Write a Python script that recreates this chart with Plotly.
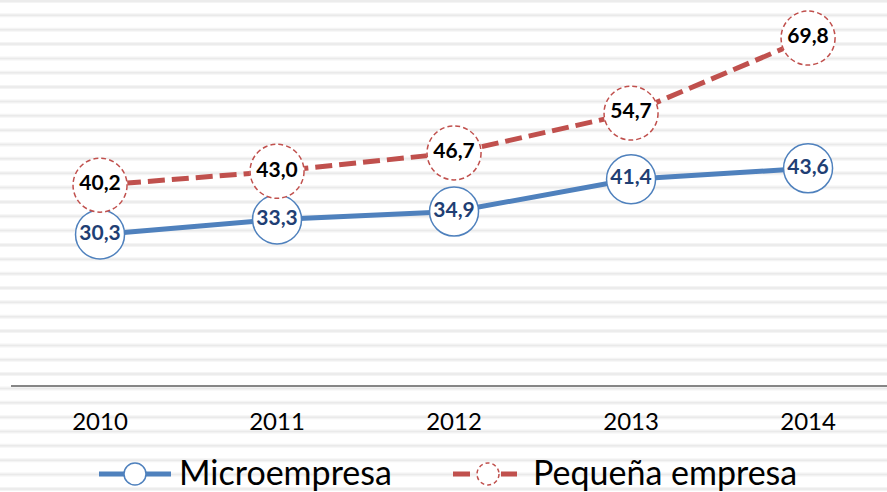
import plotly.graph_objects as go

# ---- data ----
years = [2010, 2011, 2012, 2013, 2014]
tick_labels = ["2010", "2011", "2012", "2013", "2014"]
micro = [30.3, 33.3, 34.9, 41.4, 43.6]
pequena = [40.2, 43.0, 46.7, 54.7, 69.8]
micro_labels = ["30,3", "33,3", "34,9", "41,4", "43,6"]
pequena_labels = ["40,2", "43,0", "46,7", "54,7", "69,8"]
series_names = ["Microempresa", "Pequeña empresa"]

BLUE = "#4f81bd"
RED = "#c0504d"
FONT = "Lato, 'Open Sans', sans-serif"

W, H = 887, 492
ML, MT, MB = 11, 0, 107
PW = W - ML
PH = H - MT - MB  # 385


def px_to_paper_y(py):
    return (PH + MT - py) / PH


def px_to_paper_x(px):
    return (px - ML) / PW


fig = go.Figure()

fig.add_trace(go.Scatter(
    x=years, y=micro, name=series_names[0],
    mode="lines+markers+text",
    line=dict(color=BLUE, width=5),
    marker=dict(size=49, color="white", line=dict(color=BLUE, width=1.5)),
    text=micro_labels, textposition="middle center",
    textfont=dict(family=FONT, size=21, color="#1f3f74", weight="bold"),
    showlegend=False, cliponaxis=False, hoverinfo="skip",
))

fig.add_trace(go.Scatter(
    x=years, y=pequena, name=series_names[1],
    mode="lines+markers+text",
    line=dict(color=RED, width=5, dash="17px,7px"),
    marker=dict(size=55, color="white", line=dict(width=0)),
    text=pequena_labels, textposition="middle center",
    textfont=dict(family=FONT, size=21, color="#000000", weight="bold"),
    showlegend=False, cliponaxis=False, hoverinfo="skip",
))

shapes = []
# background stripes (style)
k = 0
while True:
    py = 1 + 14.35 * k
    if py > H + 2:
        break
    yp = px_to_paper_y(py)
    shapes.append(dict(type="line", xref="paper", yref="paper",
                       x0=px_to_paper_x(-5), x1=px_to_paper_x(W + 5), y0=yp, y1=yp,
                       line=dict(color="#f4f4f4", width=4), layer="below"))
    shapes.append(dict(type="line", xref="paper", yref="paper",
                       x0=px_to_paper_x(-5), x1=px_to_paper_x(W + 5), y0=yp, y1=yp,
                       line=dict(color="#eaeaea", width=1.5), layer="below"))
    k += 1

# dashed circles around Pequeña empresa points
for xv, yv in zip(years, pequena):
    shapes.append(dict(type="circle", xref="x", yref="y",
                       xsizemode="pixel", ysizemode="pixel",
                       xanchor=xv, yanchor=yv,
                       x0=-27, x1=27, y0=-27, y1=27,
                       line=dict(color=RED, width=1.5, dash="5px,3px"),
                       fillcolor="rgba(0,0,0,0)", layer="above"))

# custom legend
ly = px_to_paper_y(474)
shapes.append(dict(type="line", xref="paper", yref="paper",
                   x0=px_to_paper_x(99), x1=px_to_paper_x(171), y0=ly, y1=ly,
                   line=dict(color=BLUE, width=5), layer="above"))
shapes.append(dict(type="circle", xref="paper", yref="paper",
                   xsizemode="pixel", ysizemode="pixel",
                   xanchor=px_to_paper_x(135), yanchor=ly,
                   x0=-11, x1=11, y0=-11, y1=11,
                   line=dict(color=BLUE, width=1.5), fillcolor="white", layer="above"))
shapes.append(dict(type="line", xref="paper", yref="paper",
                   x0=px_to_paper_x(453), x1=px_to_paper_x(517), y0=ly, y1=ly,
                   line=dict(color=RED, width=5, dash="17px,7px"), layer="above"))
shapes.append(dict(type="circle", xref="paper", yref="paper",
                   xsizemode="pixel", ysizemode="pixel",
                   xanchor=px_to_paper_x(488), yanchor=ly,
                   x0=-11, x1=11, y0=-11, y1=11,
                   line=dict(color=RED, width=1.5, dash="4px,3px"), fillcolor="white", layer="above"))

annotations = [
    dict(xref="paper", yref="paper", x=px_to_paper_x(177), y=px_to_paper_y(471),
         xanchor="left", yanchor="middle", showarrow=False, text=series_names[0],
         font=dict(family=FONT, size=34, color="#000000")),
    dict(xref="paper", yref="paper", x=px_to_paper_x(531), y=px_to_paper_y(471),
         xanchor="left", yanchor="middle", showarrow=False, text=series_names[1],
         font=dict(family=FONT, size=34, color="#000000")),
]

fig.update_layout(
    width=W, height=H,
    margin=dict(l=ML, r=0, t=MT, b=MB, pad=0, autoexpand=False),
    paper_bgcolor="white", plot_bgcolor="rgba(0,0,0,0)",
    shapes=shapes, annotations=annotations,
    showlegend=False, hovermode=False,
    xaxis=dict(type="linear", range=[2010 - 0.503, 2010 + 4.446],
               tickvals=years, ticktext=tick_labels,
               showgrid=False, zeroline=False,
               showline=True, linecolor="#868686", linewidth=1.5,
               ticks="outside", ticklen=14, tickcolor="rgba(0,0,0,0)",
               tickfont=dict(family=FONT, size=24, color="#000000")),
    yaxis=dict(range=[0, 77.46], visible=False, showgrid=False, zeroline=False),
)

fig.write_html("out.html",
               config={"displayModeBar": False},
               post_script="document.body.style.margin='0px';document.body.style.overflow='hidden';")
